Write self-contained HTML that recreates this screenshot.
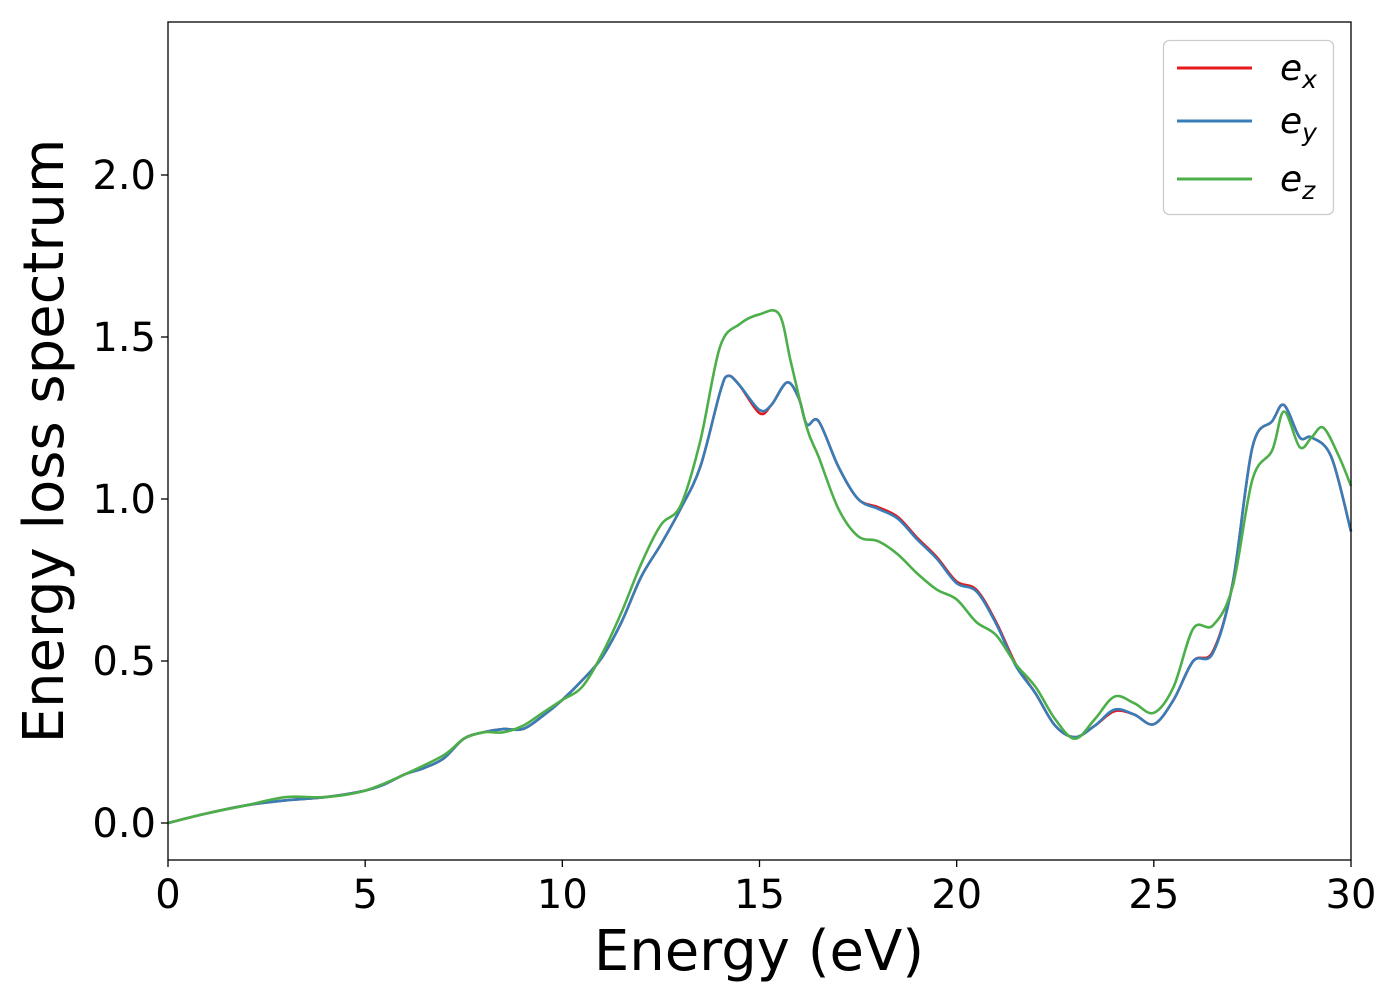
<!DOCTYPE html>
<html><head><meta charset="utf-8"><style>
body{margin:0;background:#fff;}
svg text{font-family:"DejaVu Sans","Liberation Sans",sans-serif;}
</style></head><body>
<svg id="chart" width="1400" height="1000" xmlns="http://www.w3.org/2000/svg">
<rect x="0" y="0" width="1400" height="1000" fill="#fff"/>
<g id="plot"></g>
<rect x="168" y="22" width="1183" height="838" fill="none" stroke="#000" stroke-width="1.3"/>
<g id="ticks"></g>
<text x="759" y="970" font-size="56" text-anchor="middle">Energy (eV)</text>
<text transform="translate(63,441) rotate(-90)" font-size="56" text-anchor="middle">Energy loss spectrum</text>
<g>
<rect x="1163.5" y="40.5" width="170" height="174" rx="6" fill="#fff" stroke="#ccc" stroke-width="1.3"/>
<line x1="1177" y1="68" x2="1252" y2="68" stroke="#e41a1c" stroke-width="3"/>
<text x="1280" y="80" font-size="36" font-style="italic">e<tspan font-size="25" dy="8">x</tspan></text>
<line x1="1177" y1="121" x2="1252" y2="121" stroke="#377eb8" stroke-width="3"/>
<text x="1280" y="133" font-size="36" font-style="italic">e<tspan font-size="25" dy="8">y</tspan></text>
<line x1="1177" y1="179" x2="1252" y2="179" stroke="#4daf4a" stroke-width="3"/>
<text x="1280" y="191" font-size="36" font-style="italic">e<tspan font-size="25" dy="8">z</tspan></text>
</g>
</svg>
<script>
const xTicks=[0,5,10,15,20,25,30];
const yTicks=[0.0,0.5,1.0,1.5,2.0];
const yTickLabels=["0.0","0.5","1.0","1.5","2.0"];
const energyXY=[0,1,2,3,4,5,5.5,6,6.5,7,7.5,8,8.5,9,9.5,10,10.5,11,11.5,12,12.5,13,13.5,14,14.2,14.5,15,15.3,15.7,16,16.2,16.5,17,17.5,18,18.5,19,19.5,20,20.5,21,21.5,22,22.5,23,23.5,24,24.5,25,25.5,26,26.5,27,27.5,28,28.3,28.7,29,29.5,30];
const ex=[0,0.03,0.055,0.07,0.08,0.10,0.12,0.15,0.17,0.20,0.26,0.28,0.29,0.29,0.33,0.38,0.44,0.51,0.62,0.76,0.86,0.97,1.10,1.33,1.38,1.35,1.265,1.29,1.36,1.31,1.23,1.24,1.10,1.00,0.975,0.945,0.88,0.82,0.745,0.72,0.62,0.49,0.40,0.30,0.265,0.30,0.345,0.335,0.305,0.38,0.50,0.53,0.74,1.16,1.24,1.29,1.19,1.19,1.13,0.90];
const ey=[0,0.03,0.055,0.07,0.08,0.10,0.12,0.15,0.17,0.20,0.26,0.28,0.29,0.29,0.33,0.38,0.44,0.51,0.62,0.76,0.86,0.97,1.10,1.33,1.38,1.35,1.275,1.29,1.36,1.31,1.23,1.24,1.10,1.00,0.97,0.94,0.875,0.815,0.74,0.715,0.615,0.485,0.40,0.30,0.265,0.30,0.35,0.335,0.305,0.38,0.50,0.525,0.74,1.16,1.24,1.29,1.19,1.19,1.13,0.90];
const energyZ=[0,1,2,3,4,5,6,7,7.5,8,8.5,9,9.5,10,10.5,11,11.5,12,12.5,13,13.5,14,14.5,15,15.5,15.8,16.2,16.5,17,17.5,18,18.5,19,19.5,20,20.5,21,21.5,22,22.5,23,23.5,24,24.5,25,25.5,26,26.5,27,27.5,28,28.3,28.7,29,29.3,29.7,30];
const ez=[0,0.03,0.055,0.08,0.08,0.10,0.15,0.21,0.26,0.28,0.28,0.30,0.34,0.38,0.42,0.52,0.65,0.80,0.92,0.98,1.18,1.47,1.54,1.57,1.57,1.42,1.22,1.13,0.97,0.885,0.87,0.83,0.77,0.72,0.69,0.62,0.58,0.49,0.42,0.32,0.26,0.32,0.39,0.37,0.34,0.42,0.60,0.61,0.73,1.06,1.15,1.27,1.16,1.19,1.22,1.13,1.04];
const X0=168,X1=1351,Y0=823,PY=324;
const sx=v=>X0+(v/30)*(X1-X0);
const sy=v=>Y0-v*PY;
const NS="http://www.w3.org/2000/svg";
function pathD(xs,ys){
  const p=xs.map((x,i)=>[sx(x),sy(ys[i])]);
  let d=`M${p[0][0]},${p[0][1]}`;
  for(let i=0;i<p.length-1;i++){
    const a=p[i-1]||p[i],b=p[i],c=p[i+1],e=p[i+2]||c;
    d+=` C${b[0]+(c[0]-a[0])/6},${b[1]+(c[1]-a[1])/6} ${c[0]-(e[0]-b[0])/6},${c[1]-(e[1]-b[1])/6} ${c[0]},${c[1]}`;
  }
  return d;
}
const plot=document.getElementById('plot');
[[energyXY,ex,'#e41a1c','series-ex'],[energyXY,ey,'#377eb8','series-ey'],[energyZ,ez,'#4daf4a','series-ez']].forEach(s=>{
  const el=document.createElementNS(NS,'path');
  el.setAttribute('d',pathD(s[0],s[1]));
  el.setAttribute('fill','none');el.setAttribute('stroke',s[2]);el.setAttribute('stroke-width','2.6');
  
  
  plot.appendChild(el);
});
const tg=document.getElementById('ticks');
xTicks.forEach(v=>{
  const l=document.createElementNS(NS,'line');
  l.setAttribute('x1',sx(v));l.setAttribute('x2',sx(v));l.setAttribute('y1',860);l.setAttribute('y2',867);l.setAttribute('stroke','#000');l.setAttribute('stroke-width','1.3');
  
  
  tg.appendChild(l);
  const t=document.createElementNS(NS,'text');
  t.setAttribute('x',sx(v));t.setAttribute('y',908);t.setAttribute('font-size','40');t.setAttribute('text-anchor','middle');
  t.textContent=String(v);
  
  
  tg.appendChild(t);
});
yTicks.forEach((v,i)=>{
  const l=document.createElementNS(NS,'line');
  l.setAttribute('x1',161);l.setAttribute('x2',168);l.setAttribute('y1',sy(v));l.setAttribute('y2',sy(v));l.setAttribute('stroke','#000');l.setAttribute('stroke-width','1.3');
  
  
  tg.appendChild(l);
  const t=document.createElementNS(NS,'text');
  t.setAttribute('x',156);t.setAttribute('y',sy(v)+14);t.setAttribute('font-size','40');t.setAttribute('text-anchor','end');
  t.textContent=yTickLabels[i];
  
  
  tg.appendChild(t);
});
</script>
</body></html>
